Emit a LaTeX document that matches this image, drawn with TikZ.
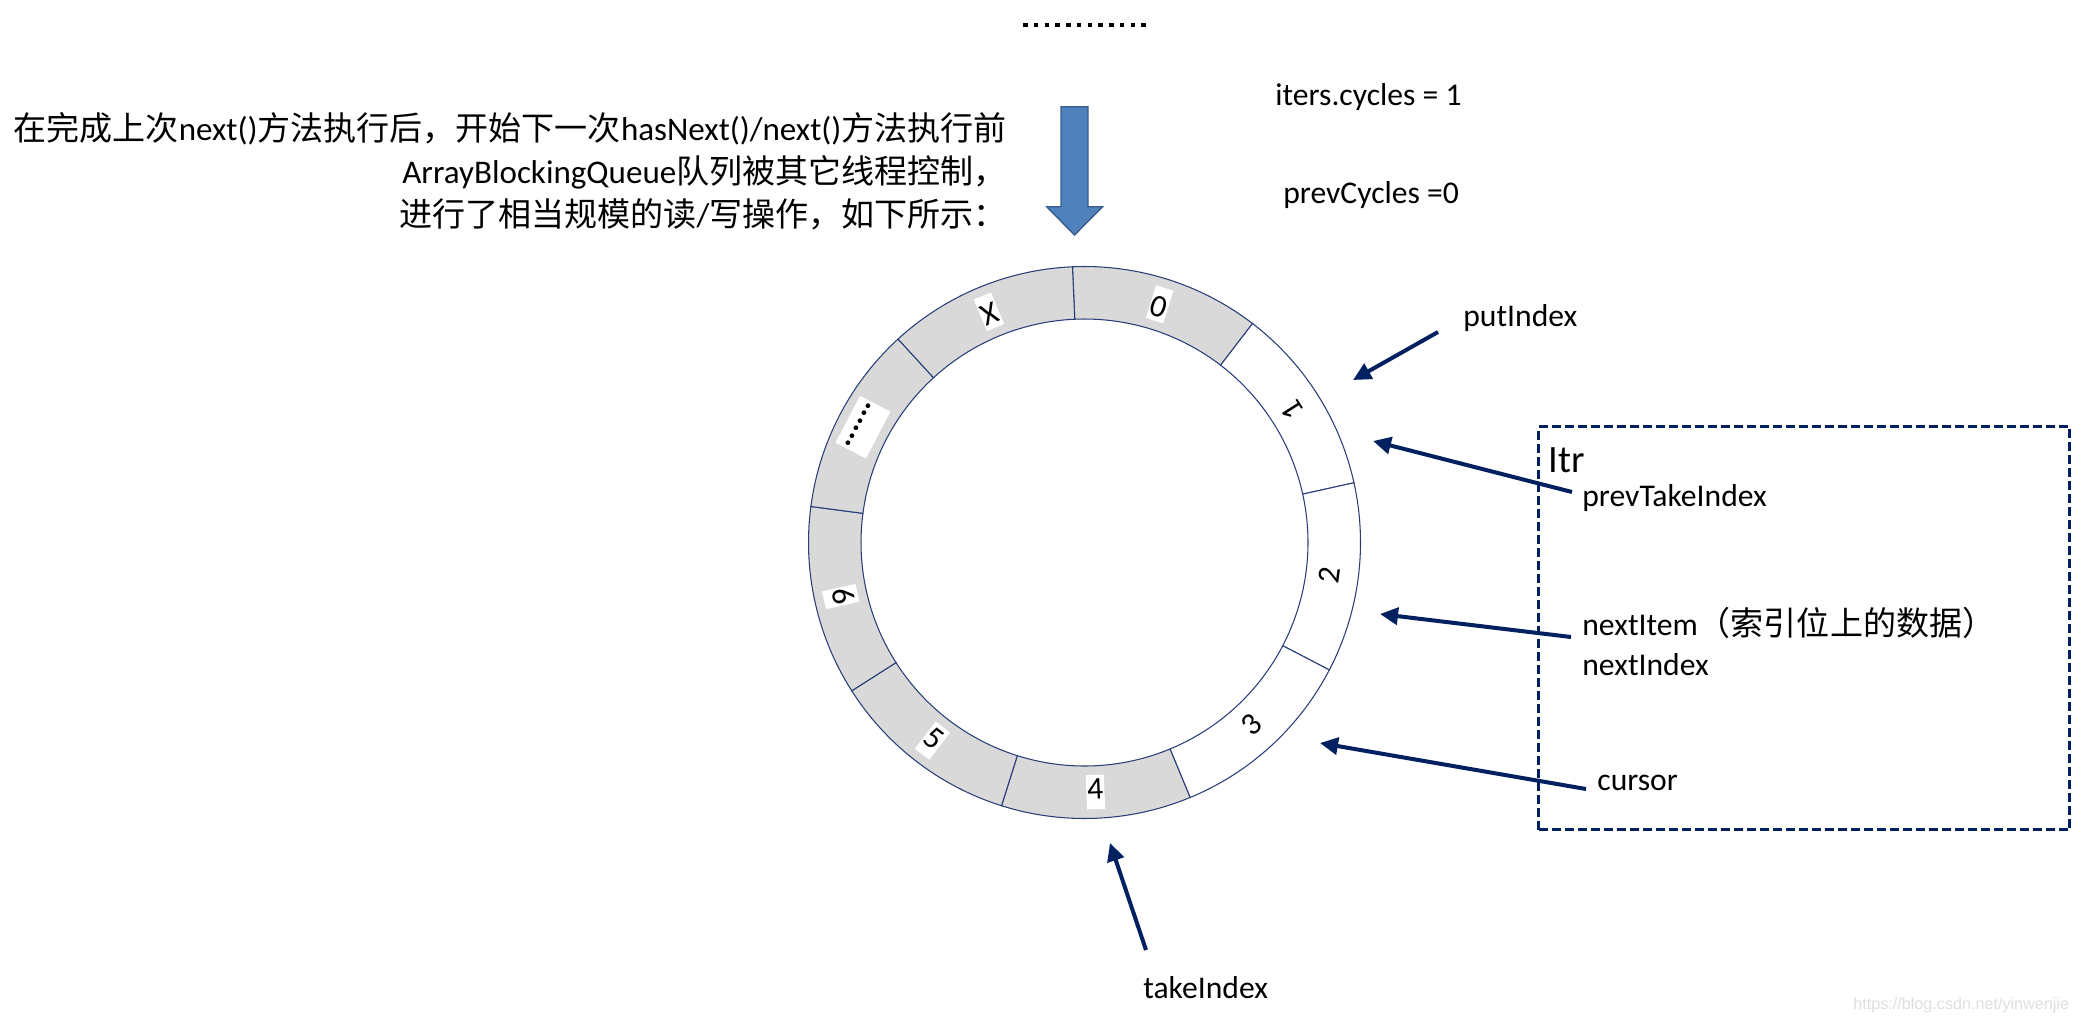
\documentclass[tikz,border=0pt]{standalone}
\usepackage{fontspec}
\setmainfont{Carlito}
\newfontfamily\cjk{Noto Sans CJK SC}
\newfontfamily\wmfont{Liberation Sans}
\usetikzlibrary{arrows.meta,positioning}
\newcommand{\zh}[1]{{\cjk #1}}
\definecolor{ptrblue}{RGB}{0,32,96}
\definecolor{ringline}{RGB}{40,62,120}
\definecolor{cellgray}{RGB}{217,217,217}
\definecolor{bigfill}{RGB}{79,129,189}
\definecolor{bigline}{RGB}{56,93,138}
\definecolor{wmgray}{RGB}{222,222,222}

\begin{document}
\begin{tikzpicture}[
  txt/.style={font=\fontsize{18}{24.5}\selectfont, inner sep=0pt},
  cell/.style={font=\fontsize{18}{18}\selectfont, fill=white, inner xsep=0.6pt, inner ysep=1pt, text height=13pt, text depth=4.5pt},
  seg/.style={draw=ringline, line width=0.6pt},
  ptr/.style={-{Triangle[length=0.36cm,width=0.34cm]}, line width=0.08cm, ptrblue},
  itrbox/.style={draw=ptrblue, line width=0.066cm, dash pattern=on 0.18cm off 0.08cm, anchor=north west, inner sep=0pt},
]
  \useasboundingbox (0,0) rectangle (41.52,-20.46);
  \coordinate (ring) at (21.69,-10.85);

  % ring buffer: 9 cells of 40 degrees
  \begin{scope}[shift={(ring)}]
    \foreach \i/\lab/\col in {0/0/cellgray, 1/1/white, 2/2/white, 3/3/white, 4/4/cellgray, 5/5/cellgray, 6/6/cellgray, 7/{\textbf{......}}/cellgray, 8/X/cellgray} {
      \pgfmathsetmacro{\aHi}{92.5-40*\i}
      \pgfmathsetmacro{\aLo}{\aHi-40}
      \pgfmathsetmacro{\aMid}{\aHi-20}
      \draw[seg, fill=\col] (\aLo:5.52) arc[start angle=\aLo, end angle=\aHi, radius=5.52]
        -- (\aHi:4.47) arc[start angle=\aHi, end angle=\aLo, radius=4.47] -- cycle;
      \node[cell, rotate=\aMid+90] (c\i) at (\aMid:4.995) {\lab};
    }
  \end{scope}

  % top
  \draw[line width=0.094cm, dash pattern=on 0.094cm off 0.121cm] (20.46,-0.5) -- (22.94,-0.5);
  \draw[fill=bigfill, draw=bigline, line width=0.8pt] (21.22,-2.134) -- (21.76,-2.134) -- (21.76,-4.134)
    -- (22.054,-4.134) -- (21.49,-4.70) -- (20.934,-4.134) -- (21.22,-4.134) -- cycle;

  \node[txt, anchor=east, align=right, font=\fontsize{18.8}{24.5}\selectfont] (note) at (20.14,-3.42)
    {\zh{在完成上次}next()\zh{方法执行后，开始下一次}hasNext()/next()\zh{方法执行前}\\
     ArrayBlockingQueue\zh{队列被其它线程控制，}\\
     \zh{进行了相当规模的读}/\zh{写操作，如下所示：}};
  \node[txt, anchor=west] (iters) at (25.5,-1.94) {iters.cycles = 1};
  \node[txt, anchor=west] (prevCyc) at (25.66,-3.9) {prevCycles =0};

  % pointers
  \node[txt, anchor=west] (putIdx) at (29.26,-6.36) {putIndex};
  \node[itrbox, minimum width=10.62cm, minimum height=8.06cm] (itr) at (30.74,-8.5) {};
  \node[txt, anchor=west, font=\fontsize{22}{22}\selectfont] (itrName) at (30.96,-9.2) {Itr};
  \node[txt, anchor=west] (prevTake) at (31.64,-9.96) {prevTakeIndex};
  \node[txt, anchor=west] (nextItem) at (31.64,-12.46) {nextItem\zh{\fontsize{18.8}{18.8}\selectfont（索引位上的数据）}};
  \node[txt, anchor=west] (nextIdx) at ([yshift=-0.84cm]nextItem.west) {nextIndex};
  \node[txt, anchor=west] (cursor) at (31.94,-15.66) {cursor};
  \node[txt, anchor=west] (takeIdx) at (22.86,-19.76) {takeIndex};

  \coordinate (putTip) at (27.06,-7.6);
  \coordinate (prevTip) at (27.46,-8.82);
  \coordinate (itemTip) at (27.6,-12.28);
  \coordinate (curTip) at (26.4,-14.86);
  \coordinate (takeTip) at (22.2,-16.86);

  \draw[ptr] ([shift={(-0.5,-0.28)}]putIdx.west) -- (putTip);
  \draw[ptr] ([shift={(-0.2,0.12)}]prevTake.west) -- (prevTip);
  \draw[ptr] ([shift={(-0.22,-0.28)}]nextItem.west) -- (itemTip);
  \draw[ptr] ([shift={(-0.22,-0.12)}]cursor.west) -- (curTip);
  \draw[ptr] ([shift={(0.06,0.76)}]takeIdx.west) -- (takeTip);

  \node[anchor=west, inner sep=0pt, text=wmgray, font=\wmfont\fontsize{9.2}{9.2}\selectfont] (wm) at (37.06,-20.1) {https://blog.csdn.net/yinwenjie};
\end{tikzpicture}
\end{document}
